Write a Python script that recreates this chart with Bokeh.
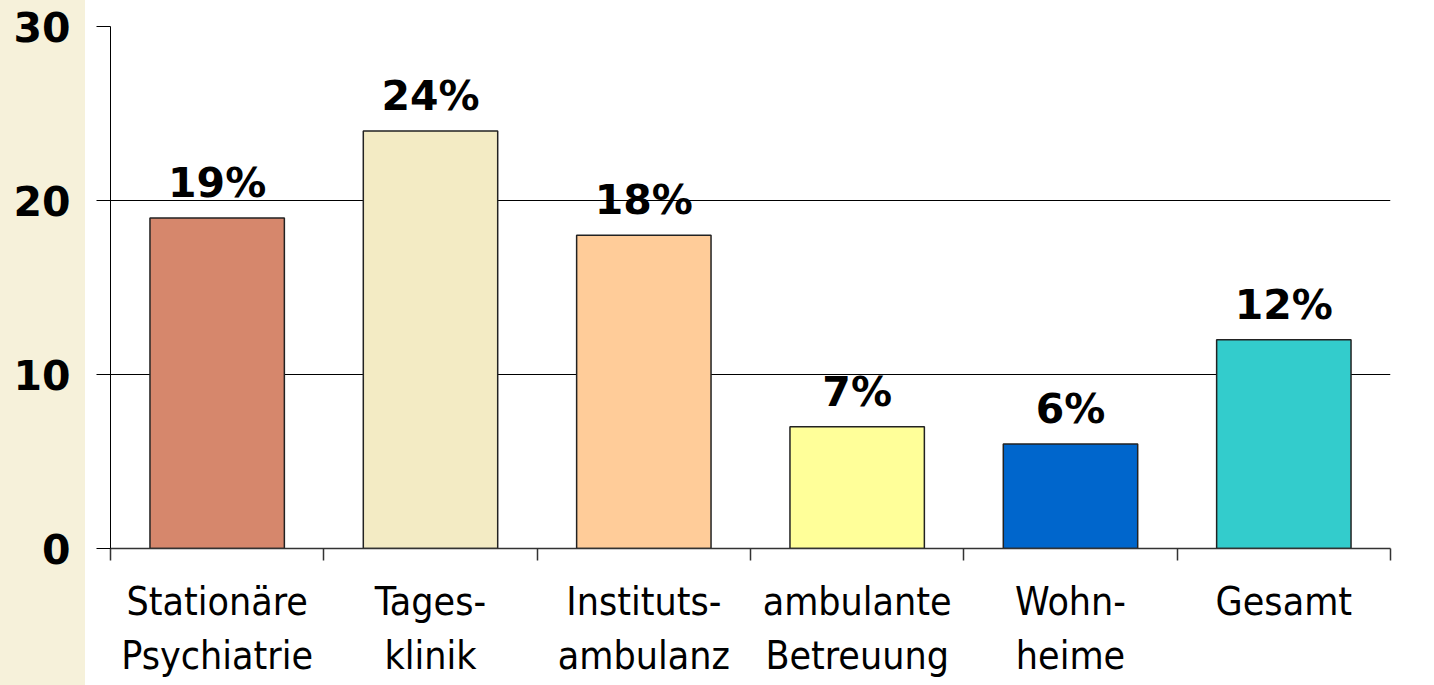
from bokeh.plotting import figure
from bokeh.models import ColumnDataSource, FixedTicker, Range1d, LabelSet
from bokeh.core.properties import value
from bokeh.embed import file_html
from bokeh.resources import INLINE

categories = ["Stationäre\nPsychiatrie", "Tages-\nklinik", "Instituts-\nambulanz",
              "ambulante\nBetreuung", "Wohn-\nheime", "Gesamt"]
values = [19, 24, 18, 7, 6, 12]
value_labels = ["19%", "24%", "18%", "7%", "6%", "12%"]
colors = ["#D6876C", "#F3EBC4", "#FFCC99", "#FFFF99", "#0066CC", "#33CCCC"]
y_ticks = [0, 10, 20, 30]

xs = list(range(1, len(categories) + 1))
src = ColumnDataSource(dict(x=xs, top=values, lab=value_labels, color=colors))

p = figure(width=1434, height=685, output_backend="svg", toolbar_location=None,
           x_range=Range1d(0.5, len(categories) + 0.5), y_range=Range1d(0, 30),
           min_border_left=110, min_border_right=44, min_border_top=26,
           min_border_bottom=137)
p.border_fill_color = None
p.background_fill_color = "white"
p.outline_line_color = None

p.vbar(x="x", top="top", width=0.63, bottom=0, source=src, fill_color="color",
       line_color="#222222", line_width=1.5)

labels = LabelSet(x="x", y="top", text="lab", source=src, text_align="center",
                  text_baseline="alphabetic", y_offset=21,
                  text_font=value("DejaVu Sans"), text_font_style="bold",
                  text_font_size="41px", text_color="black")
p.add_layout(labels)

# x axis: labels at category centres, ticks at boundaries
xa = p.xaxis[0]
xa.ticker = FixedTicker(ticks=xs, minor_ticks=[i + 0.5 for i in range(0, len(categories) + 1)])
xa.major_label_overrides = {i: c for i, c in zip(xs, categories)}
xa.major_tick_out = 0
xa.major_tick_in = 0
xa.minor_tick_out = 12
xa.minor_tick_in = 0
xa.minor_tick_line_color = "#333333"
xa.minor_tick_line_width = 1.5
xa.axis_line_color = "#333333"
xa.axis_line_width = 1.5
xa.major_label_text_font = "DejaVu Sans Condensed"
xa.major_label_text_font_size = "39px"
xa.major_label_text_color = "black"
xa.major_label_standoff = 18

ya = p.yaxis[0]
ya.ticker = FixedTicker(ticks=y_ticks)
ya.major_tick_out = 14
ya.major_tick_in = 0
ya.minor_tick_out = 0
ya.minor_tick_in = 0
ya.axis_line_color = "black"
ya.major_tick_line_color = "black"
ya.major_label_text_font = "DejaVu Sans"
ya.major_label_text_font_style = "bold"
ya.major_label_text_font_size = "41px"
ya.major_label_text_color = "black"
ya.major_label_standoff = 26

p.xgrid.visible = False
p.ygrid.ticker = FixedTicker(ticks=y_ticks[1:])
p.ygrid.grid_line_color = "black"
p.ygrid.grid_line_width = 1

html = file_html(p, INLINE)
style = "<style>html, body { background: linear-gradient(to right, #F6F1DA 85px, #FFFFFF 85px) !important; }</style>"
html = html.replace("</head>", style + "</head>", 1)
open("out.html", "w").write(html)
